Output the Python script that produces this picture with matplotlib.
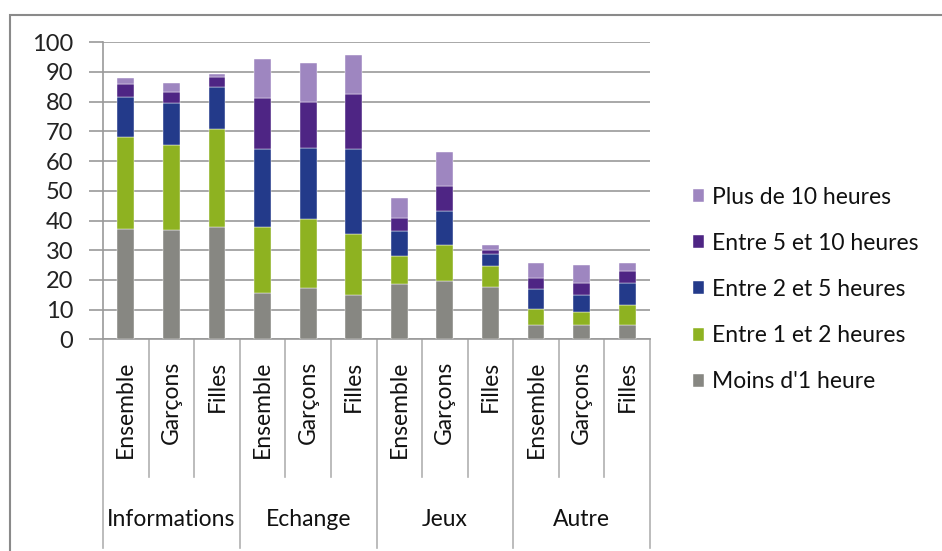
import matplotlib
matplotlib.use('Agg')
import matplotlib.pyplot as plt
from matplotlib.patches import Rectangle
import numpy as np

plt.rcParams['font.family'] = ['Lato', 'DejaVu Sans']

groups = ['Informations', 'Echange', 'Jeux', 'Autre']
subcats = ['Ensemble', 'Garçons', 'Filles']

series = ["Moins d'1 heure", 'Entre 1 et 2 heures', 'Entre 2 et 5 heures',
          'Entre 5 et 10 heures', 'Plus de 10 heures']

moins_1h = [37.1, 36.7, 37.7, 15.7, 17.4, 14.8, 18.5, 19.6, 17.5, 4.8, 4.8, 4.8]
entre_1_2 = [30.9, 28.7, 33.0, 22.1, 23.0, 20.6, 9.7, 12.2, 7.2, 5.5, 4.5, 6.6]
entre_2_5 = [13.7, 14.1, 14.1, 26.2, 24.1, 28.6, 8.1, 11.5, 3.9, 6.8, 5.5, 7.7]
entre_5_10 = [4.3, 3.7, 3.4, 17.1, 15.4, 18.6, 4.7, 8.3, 1.5, 3.4, 4.2, 3.8]
plus_10 = [1.9, 3.2, 1.1, 13.4, 13.0, 13.0, 6.5, 11.3, 1.7, 5.1, 6.0, 2.7]

colors = ['#878782', '#8eb221', '#233a8a', '#4e2584', '#9e86c0']

values = [moins_1h, entre_1_2, entre_2_5, entre_5_10, plus_10]

fig = plt.figure(figsize=(9.42, 5.51), dpi=100)
W, H = 942, 551
x0, x1, y0, y1 = 103, 650, 339.3, 42.3
ax = fig.add_axes([x0 / W, 1 - y0 / H, (x1 - x0) / W, (y0 - y1) / H])

x = np.arange(12)
bottom = np.zeros(12)
bars = []
for vals, c, lab in zip(values, colors, series):
    b = ax.bar(x, vals, width=0.37, bottom=bottom, color=c, label=lab,
               edgecolor='white', linewidth=0.3, zorder=3)
    bars.append(b)
    bottom += np.array(vals)

ax.set_xlim(-0.5, 11.5)
ax.set_ylim(0, 100)
ax.set_yticks(range(0, 101, 10))
ax.yaxis.grid(True, color='#9a9a9a', linewidth=1.2, zorder=0)
ax.tick_params(axis='y', length=10, width=1.2, color='#9a9a9a', pad=11.5,
               labelsize=17, labelcolor='#222222')
ax.set_xticks([])
for s in ['top', 'right']:
    ax.spines[s].set_visible(False)
for s in ['left', 'bottom']:
    ax.spines[s].set_color('#9a9a9a')
    ax.spines[s].set_linewidth(1.2)

# category separators below the axis
tr = ax.get_xaxis_transform()
short_y = (y0 - 477) / (y0 - y1)
long_y = (y0 - 548) / (y0 - y1)
for k in range(13):
    yb = long_y if k % 3 == 0 else short_y
    ax.plot([k - 0.5, k - 0.5], [0, yb], transform=tr, color='#b0b0b0',
            linewidth=1.2, clip_on=False)

lab_y = (y0 - 361) / (y0 - y1)
for i in range(12):
    ax.text(i, lab_y, subcats[i % 3], transform=tr, rotation=90, ha='center',
            va='top', fontsize=16.5, color='#111111')

grp_y = (y0 - 519) / (y0 - y1)
for g, name in enumerate(groups):
    ax.text(3 * g + 1, grp_y, name, transform=tr, ha='center', va='center',
            fontsize=16.5, color='#111111')

leg = fig.legend(bars[::-1], series[::-1], loc='upper left',
                 bbox_to_anchor=(672 / W, 1 - 166 / H), frameon=False,
                 fontsize=16.5, handlelength=0.5, handleheight=0.5,
                 handletextpad=0.35, labelspacing=1.1)
for t in leg.get_texts():
    t.set_color('#111111')

fig.add_artist(Rectangle((10 / W, -0.05), 1.0, 1 - 15 / H + 0.05,
                         transform=fig.transFigure, fill=False,
                         edgecolor='#8a8a8a', linewidth=1.5))

fig.savefig('out.png', dpi=100)
